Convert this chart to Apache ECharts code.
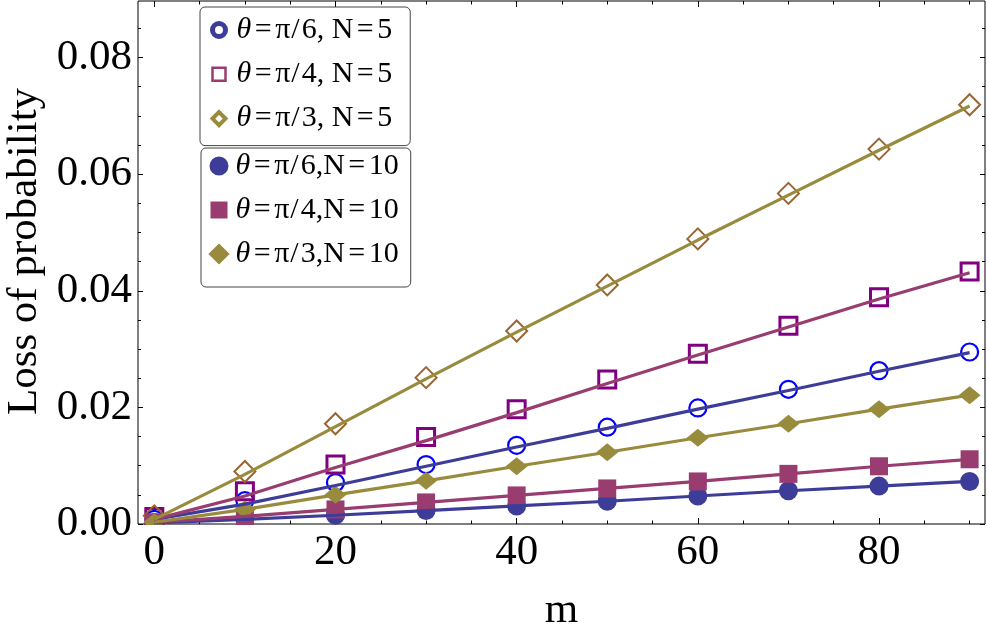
<!DOCTYPE html>
<html>
<head>
<meta charset="utf-8">
<title>Loss of probability</title>
<script src="https://cdn.jsdelivr.net/npm/echarts@6.0.0/dist/echarts.min.js"></script>
<style>
  html, body { margin: 0; padding: 0; background: #fff; }
  #chart { width: 987px; height: 638px; }
</style>
</head>
<body>
<div id="chart"></div>
<script>
// m values shared by every series
const mValues = [0, 10, 20, 30, 40, 50, 60, 70, 80, 90];

// N=5 : open markers
const circleN5 = [0.0008, 0.0040, 0.0071, 0.0102, 0.0135, 0.0166, 0.0199, 0.0231, 0.0263, 0.0295];
const squareN5 = [0.0012, 0.0056, 0.0102, 0.0149, 0.0197, 0.0248, 0.0292, 0.0340, 0.0389, 0.0433];
const diamondN5 = [0.0014, 0.0090, 0.0172, 0.0251, 0.0331, 0.0410, 0.0489, 0.0567, 0.0643, 0.0719];

// N=5 : curves under the open markers
const curveA5 = [0.0008, 0.0034, 0.0066, 0.0099, 0.0132, 0.0164, 0.0197, 0.0229, 0.0262, 0.0294];
const curveB5 = [0.0008, 0.0048, 0.0097, 0.0143, 0.0191, 0.0241, 0.0290, 0.0338, 0.0386, 0.0431];
const curveC5 = [0.0008, 0.0085, 0.0167, 0.0249, 0.0329, 0.0408, 0.0487, 0.0564, 0.0641, 0.0717];

// N=10 : filled markers (line goes through them)
const circleN10 = [0.0002, 0.0008, 0.0015, 0.0023, 0.0031, 0.0039, 0.0048, 0.0057, 0.0065, 0.0073];
const squareN10 = [0.0003, 0.0013, 0.0025, 0.0037, 0.0049, 0.0061, 0.0073, 0.0086, 0.0099, 0.0111];
const diamondN10 = [0.0003, 0.0025, 0.0050, 0.0074, 0.0099, 0.0123, 0.0148, 0.0172, 0.0197, 0.0221];

const namesN5 = ['θ=π/6, N=5', 'θ=π/4, N=5', 'θ=π/3, N=5'];
const namesN10 = ['θ=π/6,N=10', 'θ=π/4,N=10', 'θ=π/3,N=10'];

// ticks
const xMajor = [0, 20, 40, 60, 80];
const xMinor = [5, 10, 15, 25, 30, 35, 45, 50, 55, 65, 70, 75, 85, 90];
const yMajor = [0, 0.02, 0.04, 0.06, 0.08];
const yMinor = [0.005, 0.01, 0.015, 0.025, 0.03, 0.035, 0.045, 0.05, 0.055, 0.065, 0.07, 0.075, 0.085];

const serif = "'Liberation Serif', 'Times New Roman', serif";
const lineColors = ['#3d3d99', '#993d71', '#998b3d'];
const openColors = ['#0000ff', '#800080', '#996633'];

// plot frame (px)
const frame = { left: 138, right: 2, top: 1, bottom: 114 };

const pair = (arr) => mValues.map((m, i) => [m, arr[i]]);

function xAxisOf(position, ticks, len, withLabel) {
  return {
    type: 'value',
    position: position,
    min: -1.8,
    max: 91.7,
    axisLine: { show: false, onZero: false },
    splitLine: { show: false },
    axisTick: { show: true, inside: true, length: len, customValues: ticks, lineStyle: { color: '#000', width: 1 } },
    axisLabel: withLabel ? {
      customValues: xMajor,
      margin: 7,
      color: '#000',
      fontFamily: serif,
      fontSize: 43,
      lineHeight: 43
    } : { show: false },
    name: withLabel ? 'm' : '',
    nameLocation: 'middle',
    nameGap: 65,
    nameTextStyle: { fontFamily: serif, fontSize: 43, lineHeight: 43, color: '#000' }
  };
}

function yAxisOf(position, ticks, len, withLabel) {
  return {
    type: 'value',
    position: position,
    min: 0,
    max: 0.0897,
    axisLine: { show: false, onZero: false },
    splitLine: { show: false },
    axisTick: { show: true, inside: true, length: len, customValues: ticks, lineStyle: { color: '#000', width: 1 } },
    axisLabel: withLabel ? {
      customValues: yMajor,
      margin: 6,
      color: '#000',
      fontFamily: serif,
      fontSize: 43,
      lineHeight: 43,
      formatter: (v) => v.toFixed(2)
    } : { show: false },
    name: withLabel ? 'Loss of probability' : '',
    nameLocation: 'middle',
    nameGap: 91,
    nameTextStyle: { fontFamily: serif, fontSize: 43, lineHeight: 43, color: '#000', padding: [0, 0, 0, 22] }
  };
}

function curve(name, arr, color) {
  return {
    name: name,
    type: 'line',
    data: pair(arr),
    showSymbol: false,
    silent: true,
    lineStyle: { color: color, width: 3.2 },
    itemStyle: { color: color }
  };
}

function marks(name, arr, symbol, size, style) {
  return {
    name: name,
    type: 'scatter',
    data: pair(arr),
    symbol: symbol,
    symbolSize: size,
    silent: true,
    itemStyle: style
  };
}

const openStyle = (c, w) => ({ color: 'rgba(0,0,0,0)', borderColor: c, borderWidth: w, opacity: 1 });
const fillStyle = (c) => ({ color: c, opacity: 1 });

const series = [
  curve('c5a', curveA5, lineColors[0]),
  curve('c5b', curveB5, lineColors[1]),
  curve('c5c', curveC5, lineColors[2]),
  marks(namesN5[0], circleN5, 'circle', 17, openStyle(openColors[0], 2.2)),
  marks(namesN5[1], squareN5, 'rect', 17, openStyle(openColors[1], 3)),
  marks(namesN5[2], diamondN5, 'diamond', 21, openStyle(openColors[2], 2)),
  curve('c10a', circleN10, lineColors[0]),
  curve('c10b', squareN10, lineColors[1]),
  curve('c10c', diamondN10, lineColors[2]),
  marks(namesN10[0], circleN10, 'circle', 19, fillStyle(lineColors[0])),
  marks(namesN10[1], squareN10, 'rect', 18, fillStyle(lineColors[1])),
  marks(namesN10[2], diamondN10, 'diamond', [22, 18], fillStyle(lineColors[2]))
];

// legend text: italic theta, a little air round "=" and "/" like the original typesetting
function legendText(lead) {
  const base = { fontFamily: serif, fontSize: 30, lineHeight: 30, color: '#000' };
  return Object.assign({}, base, {
    rich: {
      i: Object.assign({}, base, { fontStyle: 'italic', padding: [0, 0, 0, lead] }),
      e: Object.assign({}, base, { padding: [0, 3.5, 0, 3.5] }),
      s: Object.assign({}, base, { padding: [0, 2, 0, 1] })
    }
  });
}
const legendLabel = (name) => name
  .replace(/=/g, '{e|=}')
  .replace('/', '{s|/}')
  .replace('θ', '{i|θ}');

const legendBox = {
  orient: 'vertical',
  selectedMode: false,
  backgroundColor: '#fff',
  borderColor: '#444',
  borderWidth: 1,
  borderRadius: 5,
  formatter: legendLabel
};

const chart = echarts.init(document.getElementById('chart'), null, { renderer: 'canvas' });

chart.setOption({
  animation: false,
  backgroundColor: '#fff',
  grid: Object.assign({}, frame, {
    outerBoundsMode: 'none',
    containLabel: false,
    show: true, borderColor: '#000', borderWidth: 1
  }),
  xAxis: [
    xAxisOf('bottom', xMajor, 6, true),
    xAxisOf('bottom', xMinor, 3.5, false),
    xAxisOf('top', xMajor, 6, false),
    xAxisOf('top', xMinor, 3.5, false)
  ],
  yAxis: [
    yAxisOf('left', yMajor, 5, true),
    yAxisOf('left', yMinor, 3, false),
    yAxisOf('right', yMajor, 5, false),
    yAxisOf('right', yMinor, 3, false)
  ],
  legend: [
    Object.assign({}, legendBox, {
      left: 200,
      top: 7,
      padding: [8, 18, 12, 10],
      itemGap: 14.3,
      itemWidth: 13,
      itemHeight: 13,
      textStyle: legendText(6),
      data: [
        { name: namesN5[0], icon: 'circle', itemStyle: { color: '#fff', borderColor: lineColors[0], borderWidth: 5 } },
        { name: namesN5[1], icon: 'rect', itemStyle: { color: '#fff', borderColor: lineColors[1], borderWidth: 2.5 } },
        { name: namesN5[2], icon: 'diamond', itemStyle: { color: '#fff', borderColor: lineColors[2], borderWidth: 4 } }
      ]
    }),
    Object.assign({}, legendBox, {
      left: 201,
      top: 148,
      padding: [3, 12, 18, 8],
      itemGap: 14,
      itemWidth: 17,
      itemHeight: 17,
      textStyle: legendText(3),
      data: [
        { name: namesN10[0], icon: 'circle', itemStyle: { color: lineColors[0], borderColor: lineColors[0], borderWidth: 2 } },
        { name: namesN10[1], icon: 'rect', itemStyle: { color: lineColors[1], borderWidth: 0 } },
        { name: namesN10[2], icon: 'diamond', itemStyle: { color: lineColors[2], borderColor: lineColors[2], borderWidth: 3 } }
      ]
    })
  ],
  // markers are cut at the bottom frame, as in the original plot
  graphic: [{
    type: 'rect',
    silent: true,
    z: 100,
    shape: { x: frame.left, y: 638 - frame.bottom + 1, width: 987 - frame.left - frame.right, height: 9 },
    style: { fill: '#fff' }
  }],
  series: series
});
</script>
</body>
</html>
